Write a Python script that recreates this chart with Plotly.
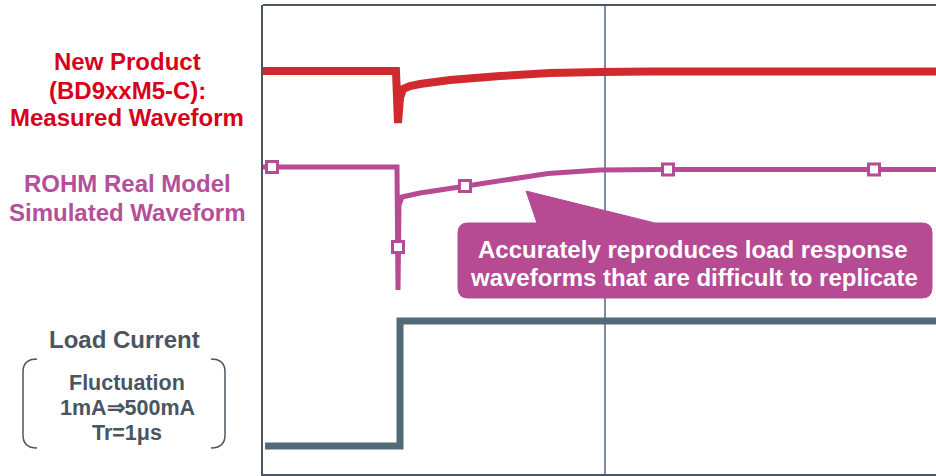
import plotly.graph_objects as go

# ---- data (time axis 0..100, level axis 0..100; no tick labels shown) ----
measured_t = [0, 19.76, 20.06, 20.36, 20.80, 21.84, 23.33, 27.79, 35.22, 42.64, 50.07, 57.50, 100]
measured_v = [85.93, 85.93, 74.84, 80.17, 82.09, 82.73, 83.16, 84.01, 84.86, 85.50, 85.71, 85.82, 85.82]

sim_t = [0, 19.91, 20.06, 20.21, 20.65, 23.33, 26.30, 30.01, 33.73, 38.19, 42.35, 50.07, 58.99, 100]
sim_v = [65.46, 65.46, 39.23, 57.36, 59.06, 59.91, 60.55, 61.41, 62.15, 63.11, 64.07, 64.82, 64.93, 64.93]

sim_marker_t = [1.34, 20.06, 30.01, 60.18, 90.79]
sim_marker_v = [65.46, 48.40, 61.41, 64.93, 64.93]

load_t = [0.3, 20.36, 20.36, 100]
load_i = [5.97, 5.97, 32.62, 32.62]

grid_t = [50.82]

RED = "#d12a2e"
MAG = "#b64a93"
GRAY = "#536a77"
BORDER = "#4b5661"

fig = go.Figure()
fig.add_trace(go.Scatter(x=load_t, y=load_i, mode="lines",
                         line=dict(color=GRAY, width=7), hoverinfo="skip"))
fig.add_trace(go.Scatter(x=sim_t, y=sim_v, mode="lines",
                         line=dict(color=MAG, width=5), hoverinfo="skip"))
fig.add_trace(go.Scatter(x=sim_marker_t, y=sim_marker_v, mode="markers",
                         marker=dict(symbol="square", size=11, color="white",
                                     line=dict(color=MAG, width=3)), hoverinfo="skip"))
fig.add_trace(go.Scatter(x=measured_t, y=measured_v, mode="lines",
                         line=dict(color=RED, width=8), hoverinfo="skip"))

W, H = 936, 476
L, R, T, B = 263, 0, 5, 2
PW, PH = W - L - R, H - T - B


def px(x):
    return (x - L) / PW


def py(y):
    return (H - B - y) / PH


def pt(x, y):
    return f"{px(x):.5f},{py(y):.5f}"


shapes = []
# top border
shapes.append(dict(type="line", xref="paper", yref="paper", x0=0, x1=1, y0=1, y1=1,
                   line=dict(color=BORDER, width=2)))

# brackets
def bracket(xv, xe, y0, y1, r=13):
    return (f"M {pt(xe, y0)} Q {pt(xv, y0)} {pt(xv, y0 + r)} "
            f"L {pt(xv, y1 - r)} Q {pt(xv, y1)} {pt(xe, y1)}")

shapes.append(dict(type="path", xref="paper", yref="paper", path=bracket(23, 37, 359, 448),
                   line=dict(color=BORDER, width=1.5)))
shapes.append(dict(type="path", xref="paper", yref="paper", path=bracket(225, 211, 359, 448),
                   line=dict(color=BORDER, width=1.5)))

# callout box with pointer
x0, x1, y0, y1, r = 458, 932, 223, 298, 10
callout = (f"M {pt(x0 + r, y0)} L {pt(537, y0)} L {pt(526, 191)} L {pt(655, y0)} "
           f"L {pt(x1 - r, y0)} Q {pt(x1, y0)} {pt(x1, y0 + r)} "
           f"L {pt(x1, y1 - r)} Q {pt(x1, y1)} {pt(x1 - r, y1)} "
           f"L {pt(x0 + r, y1)} Q {pt(x0, y1)} {pt(x0, y1 - r)} "
           f"L {pt(x0, y0 + r)} Q {pt(x0, y0)} {pt(x0 + r, y0)} Z")
shapes.append(dict(type="path", xref="paper", yref="paper", path=callout,
                   fillcolor=MAG, line=dict(color=MAG, width=1)))

FONT = "Liberation Sans, Arial, sans-serif"
annotations = []


def label(text, x, y, color, size):
    annotations.append(dict(text=f"<b>{text}</b>", xref="paper", yref="paper",
                            x=px(x), y=py(y), xanchor="center", yanchor="middle",
                            showarrow=False, font=dict(family=FONT, size=size, color=color)))

TRED = "#d9001b"
TMAG = "#b4509a"
TGRAY = "#4a5561"
label("New Product", 127, 62, TRED, 24)
label("(BD9xxM5-C):", 127, 90, TRED, 24)
label("Measured Waveform", 127, 118, TRED, 24)
label("ROHM Real Model", 127, 184, TMAG, 24)
label("Simulated Waveform", 127, 212, TMAG, 24)
label("Load Current", 124, 339, TGRAY, 24)
label("Fluctuation", 127, 383, TGRAY, 21.5)
label("1mA⇒500mA", 127, 408, TGRAY, 21.5)
label("Tr=1μs", 127, 433, TGRAY, 21.5)
label("Accurately reproduces load response", 693, 249, "white", 24)
label("waveforms that are difficult to replicate", 694, 277, "white", 24)

fig.update_layout(
    width=W, height=H,
    margin=dict(l=L, r=R, t=T, b=B, pad=0),
    paper_bgcolor="white", plot_bgcolor="white",
    showlegend=False,
    xaxis=dict(range=[0, 100], showticklabels=False, ticks="", tickvals=grid_t,
               showgrid=True, gridcolor="#7f8aa3", gridwidth=1.5, zeroline=False,
               showline=True, linecolor=BORDER, linewidth=2, fixedrange=True),
    yaxis=dict(range=[0, 100], showticklabels=False, ticks="", showgrid=False,
               zeroline=False, showline=True, linecolor=BORDER, linewidth=2, fixedrange=True),
    shapes=shapes,
    annotations=annotations,
)

fig.write_html("out.html", config={"displayModeBar": False},
               post_script="document.body.style.margin='0px';document.body.style.overflow='hidden';")
